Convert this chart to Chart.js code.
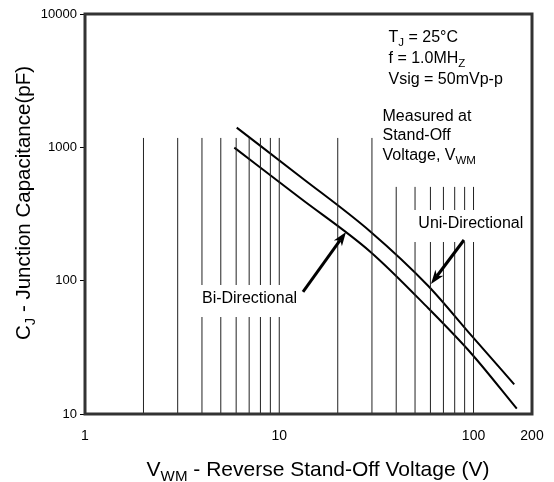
<!DOCTYPE html>
<html lang="en">
<head>
    <meta charset="UTF-8">
    <title>Junction Capacitance vs Reverse Stand-Off Voltage</title>
    <script src="https://cdn.jsdelivr.net/npm/chart.js"></script>
    <style>
        html, body {
            margin: 0;
            padding: 0;
            background: #fff;
        }
        #wrap {
            width: 554px;
            height: 482px;
        }
    </style>
</head>
<body>
    <div id="wrap"><canvas id="capChart" width="554" height="482"></canvas></div>

    <script>
        // curve values
        const uniV = [6.04, 12.8, 29.3, 58.5, 97.9, 162];
        const uniC = [1405, 605, 235, 91.2, 38.5, 16.7];
        const biV = [5.87, 12.8, 29.4, 58.5, 97.9, 167];
        const biC = [995, 417, 165, 62.1, 28.2, 10.96];

        // vertical rulings (partial grid) and where they stop
        const gridTall = [2, 3, 4, 5, 6, 7, 8, 9, 10, 20, 30, 200];
        const gridShort = [40, 50, 60, 70, 80, 90, 100];
        const gridFloor = 10;
        const gridTallTop = 1176;
        const gridShortTop = 505;

        const xTicks = [1, 10, 100, 200];
        const yTicks = [10, 100, 1000, 10000];

        const FONT = "'Liberation Sans', Arial, sans-serif";

        function toPoints(xs, ys) {
            return xs.map((x, i) => ({ x: x, y: ys[i] }));
        }

        function rulings(list, top) {
            const pts = [];
            list.forEach(v => {
                pts.push({ x: v, y: gridFloor }, { x: v, y: top }, { x: v, y: null });
            });
            return pts;
        }

        // text with subscripts: parts = [[text, isSub], ...]
        function richWidth(ctx, parts, size) {
            let w = 0;
            parts.forEach(p => {
                ctx.font = (p[1] ? size * 0.72 : size) + 'px ' + FONT;
                w += ctx.measureText(p[0]).width;
            });
            return w;
        }

        function drawRich(ctx, parts, x, y, size, align) {
            let cx = x;
            if (align === 'center') cx = x - richWidth(ctx, parts, size) / 2;
            ctx.textBaseline = 'alphabetic';
            ctx.textAlign = 'left';
            parts.forEach(p => {
                const s = p[1] ? size * 0.72 : size;
                ctx.font = s + 'px ' + FONT;
                ctx.fillText(p[0], cx, p[1] ? y + size * 0.22 : y);
                cx += ctx.measureText(p[0]).width;
            });
        }

        function arrow(ctx, x0, y0, x1, y1) {
            const ang = Math.atan2(y1 - y0, x1 - x0);
            const len = 14, half = 5;
            const bx = x1 - Math.cos(ang) * len, by = y1 - Math.sin(ang) * len;
            ctx.strokeStyle = '#000';
            ctx.lineWidth = 3;
            ctx.beginPath();
            ctx.moveTo(x0, y0);
            ctx.lineTo(bx + Math.cos(ang) * 4, by + Math.sin(ang) * 4);
            ctx.stroke();
            ctx.fillStyle = '#000';
            ctx.beginPath();
            ctx.moveTo(x1, y1);
            ctx.lineTo(bx - Math.sin(ang) * half, by + Math.cos(ang) * half);
            ctx.lineTo(bx + Math.cos(ang) * 4, by + Math.sin(ang) * 4);
            ctx.lineTo(bx + Math.sin(ang) * half, by - Math.cos(ang) * half);
            ctx.closePath();
            ctx.fill();
        }

        const decorations = {
            id: 'decorations',
            afterDatasetsDraw(chart) {
                const { ctx, chartArea: a, scales: { x, y } } = chart;
                ctx.save();

                // white boxes behind the curve labels cut the rulings
                ctx.fillStyle = '#fff';
                const bx0 = x.getPixelForValue(3.85);
                ctx.fillRect(bx0, 285, x.getPixelForValue(13.2) - bx0, 32);
                const ux0 = x.getPixelForValue(45);
                ctx.fillRect(ux0, 210, a.right - ux0 - 1.5, 32);

                ctx.fillStyle = '#000';
                drawRich(ctx, [['Bi-Directional', false]], x.getPixelForValue(4.0), 303, 16);
                drawRich(ctx, [['Uni-Directional', false]], x.getPixelForValue(52), 228, 16);

                const tx = x.getPixelForValue(36.5);
                drawRich(ctx, [['T', false], ['J', true], [' = 25\u00B0C', false]], tx, a.top + 28, 16);
                drawRich(ctx, [['f = 1.0MH', false], ['Z', true]], tx, a.top + 49, 16);
                drawRich(ctx, [['Vsig = 50mVp-p', false]], tx, a.top + 70, 16);

                const mx = x.getPixelForValue(34);
                drawRich(ctx, [['Measured at', false]], mx, a.top + 107, 16);
                drawRich(ctx, [['Stand-Off', false]], mx, a.top + 126, 16);
                drawRich(ctx, [['Voltage, V', false], ['WM', true]], mx, a.top + 146, 16);

                arrow(ctx, x.getPixelForValue(13.25), y.getPixelForValue(82.3), x.getPixelForValue(22.06), y.getPixelForValue(231.9));
                arrow(ctx, x.getPixelForValue(89.3), y.getPixelForValue(201.9), x.getPixelForValue(60.4), y.getPixelForValue(94.4));

                // frame
                ctx.strokeStyle = '#333';
                ctx.lineWidth = 3;
                ctx.strokeRect(a.left, a.top, a.right - a.left, a.bottom - a.top);

                // axis titles
                ctx.fillStyle = '#000';
                drawRich(ctx, [['V', false], ['WM', true], [' - Reverse Stand-Off Voltage (V)', false]], 318, 476, 21, 'center');
                ctx.save();
                ctx.translate(30, 203);
                ctx.rotate(-Math.PI / 2);
                drawRich(ctx, [['C', false], ['J', true], [' - Junction Capacitance(pF)', false]], 0, 0, 20.5, 'center');
                ctx.restore();

                ctx.restore();
            }
        };

        const ctx = document.getElementById('capChart').getContext('2d');
        const chart = new Chart(ctx, {
            type: 'line',
            data: {
                datasets: [
                    {
                        label: 'rulings',
                        data: rulings(gridTall, gridTallTop).concat(rulings(gridShort, gridShortTop)),
                        borderColor: '#222',
                        borderWidth: 1,
                        pointRadius: 0,
                        spanGaps: false,
                        tension: 0
                    },
                    {
                        label: 'Uni-Directional',
                        data: toPoints(uniV, uniC),
                        borderColor: '#000',
                        borderWidth: 2,
                        pointRadius: 0,
                        cubicInterpolationMode: 'monotone'
                    },
                    {
                        label: 'Bi-Directional',
                        data: toPoints(biV, biC),
                        borderColor: '#000',
                        borderWidth: 2,
                        pointRadius: 0,
                        cubicInterpolationMode: 'monotone'
                    }
                ]
            },
            options: {
                responsive: false,
                animation: false,
                layout: { padding: { top: 14, right: 22, left: 0, bottom: 0 } },
                plugins: {
                    legend: { display: false },
                    tooltip: { enabled: false }
                },
                scales: {
                    x: {
                        type: 'logarithmic',
                        min: 1,
                        max: 200,
                        afterBuildTicks: s => { s.ticks = xTicks.map(v => ({ value: v })); },
                        afterFit: s => { s.height = 68; },
                        grid: { display: false, drawTicks: true, tickLength: 12 },
                        border: { display: false },
                        ticks: {
                            autoSkip: false,
                            maxRotation: 0,
                            padding: 2,
                            color: '#000',
                            font: { family: FONT, size: 14 },
                            callback: v => String(v)
                        }
                    },
                    y: {
                        type: 'logarithmic',
                        min: 10,
                        max: 10000,
                        afterBuildTicks: s => { s.ticks = yTicks.map(v => ({ value: v })); },
                        afterFit: s => { s.width = 85; },
                        grid: { drawOnChartArea: false, drawTicks: true, tickLength: 5, color: '#000' },
                        border: { display: false },
                        ticks: {
                            autoSkip: false,
                            padding: 3,
                            color: '#000',
                            font: { family: FONT, size: 13 },
                            callback: v => String(v)
                        }
                    }
                }
            },
            plugins: [decorations]
        });
    </script>
</body>
</html>
